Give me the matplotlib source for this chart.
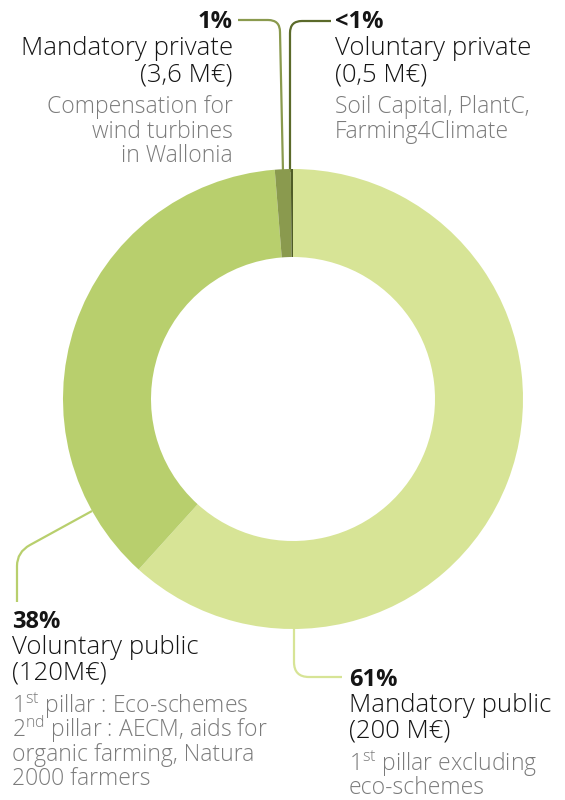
import matplotlib.pyplot as plt
from matplotlib.path import Path
from matplotlib.patches import PathPatch

# budget split, clockwise from 12 o'clock
labels = ['Mandatory public', 'Voluntary public', 'Mandatory private', 'Voluntary private']
amounts = [200, 120, 3.6, 0.5]  # M€
shares = ['61%', '38%', '1%', '<1%']
amount_labels = ['(200 M€)', '(120M€)', '(3,6 M€)', '(0,5 M€)']
details = [
    ['1$^{\\mathregular{st}}$ pillar excluding', 'eco-schemes'],
    ['1$^{\\mathregular{st}}$ pillar : Eco-schemes', '2$^{\\mathregular{nd}}$ pillar : AECM, aids for',
     'organic farming, Natura', '2000 farmers'],
    ['Compensation for', 'wind turbines', 'in Wallonia'],
    ['Soil Capital, PlantC,', 'Farming4Climate'],
]
colors = ['#d7e496', '#b8cf6d', '#8a9a4e', '#4f5c26']
line_colors = ['#d7e496', '#b8cf6d', '#8a9a4e', '#5b6a2a']

plt.rcParams['font.family'] = ['Open Sans', 'DejaVu Sans']

W, H = 565, 800
fig = plt.figure(figsize=(W / 100, H / 100), dpi=100)
ax = fig.add_axes([0, 0, 1, 1])

def Y(y):
    # pixel row -> data y
    return H - y

cx, cy, R = 293, 399, 230
ax.pie(amounts, colors=colors, startangle=90, counterclock=False,
       center=(cx, Y(cy)), radius=R, frame=True,
       wedgeprops=dict(width=88, linewidth=0))
ax.set_xlim(0, W)
ax.set_ylim(0, H)
ax.set_aspect('equal')
ax.axis('off')

# leader lines (pixel coords, rounded corner as quadratic curve)
leaders = [
    [(294, 628), (294, 662), (294, 677), (309, 677), (342, 677)],
    [(92, 511), (30, 545), (17, 552), (17, 566), (17, 602)],
    [(238, 20), (268, 20), (280, 20), (280, 32), (283, 172)],
    [(331, 21), (302, 21), (290, 21), (290, 33), (290, 172)],
]
codes = [Path.MOVETO, Path.LINETO, Path.CURVE3, Path.CURVE3, Path.LINETO]
for pts, c in zip(leaders, line_colors):
    verts = [(x, Y(y)) for x, y in pts]
    ax.add_patch(PathPatch(Path(verts, codes), fill=False, edgecolor=c,
                           linewidth=1.6, zorder=0, capstyle='butt'))

# text blocks (baselines): x, align, share, name, amount, first detail, detail step
blocks = [
    (349, 'left', 686, 712, 738, 771, 23),
    (12, 'left', 628, 654, 680, 713, 24),
    (233, 'right', 28, 55, 81, 113, 24.5),
    (335, 'left', 28, 55, 81, 113, 24.5),
]
black = '#151515'
grey = '#7b7b7b'
for i, (x, ha, ys, yn, ya, yd, step) in enumerate(blocks):
    ax.text(x, Y(ys), shares[i], ha=ha, va='baseline', fontsize=17,
            fontweight='bold', color=black)
    ax.text(x, Y(yn), labels[i], ha=ha, va='baseline', fontsize=18.5,
            fontweight='light', color=black)
    ax.text(x, Y(ya), amount_labels[i], ha=ha, va='baseline', fontsize=18.5,
            fontweight='light', color=black)
    for k, line in enumerate(details[i]):
        ax.text(x, Y(yd + step * k), line, ha=ha, va='baseline', fontsize=16.5,
                fontweight='light', color=grey)

fig.savefig('out.png', dpi=100)
